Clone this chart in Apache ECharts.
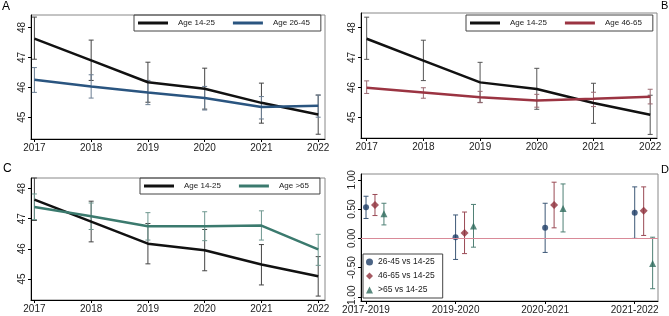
<!DOCTYPE html>
<html>
<head>
<meta charset="utf-8">
<script src="https://cdn.jsdelivr.net/npm/echarts@6/dist/echarts.min.js"></script>
<style>
  html, body { margin: 0; padding: 0; background: #fff; }
  #chart { width: 669px; height: 316px; }
</style>
</head>
<body>
<div id="chart"></div>
<script>
// years and tick values
const years = [2017, 2018, 2019, 2020, 2021, 2022];
const yTicks = [45, 46, 47, 48];

// reference group, age 14-25 (same in A, B, C)
const age1425 = [47.63, 46.90, 46.17, 45.95, 45.48, 45.09];
const age1425Lo = [46.94, 46.23, 45.50, 45.27, 44.80, 44.43];
const age1425Hi = [48.35, 47.58, 46.84, 46.64, 46.14, 45.74];

// panel A, age 26-45
const age2645 = [46.25, 46.03, 45.83, 45.64, 45.34, 45.38];
const age2645Lo = [45.83, 45.64, 45.42, 45.24, 44.94, 45.00];
const age2645Hi = [46.66, 46.42, 46.23, 46.03, 45.69, 45.74];

// panel B, age 46-65
const age4665 = [45.99, 45.83, 45.67, 45.56, 45.62, 45.69];
const age4665Lo = [45.80, 45.64, 45.49, 45.34, 45.36, 45.45];
const age4665Hi = [46.22, 45.99, 45.87, 45.77, 45.84, 45.94];

// panel C, age >65
const age65 = [47.39, 47.08, 46.75, 46.75, 46.77, 45.98];
const age65Lo = [46.97, 46.64, 46.29, 46.27, 46.29, 45.45];
const age65Hi = [47.82, 47.52, 47.20, 47.23, 47.26, 46.48];

// panel D, differences vs 14-25
const periods = ['2017-2019', '2019-2020', '2020-2021', '2021-2022'];
const dTicks = [-1, -0.5, 0, 0.5, 1];
const d2645 = [0.53, 0.02, 0.18, 0.44];
const d2645Lo = [0.34, -0.36, -0.24, 0.00];
const d2645Hi = [0.72, 0.40, 0.60, 0.88];
const d4665 = [0.57, 0.09, 0.57, 0.47];
const d4665Lo = [0.39, -0.26, 0.18, 0.05];
const d4665Hi = [0.75, 0.45, 0.96, 0.88];
const d65 = [0.42, 0.21, 0.51, -0.43];
const d65Lo = [0.23, -0.15, 0.11, -0.86];
const d65Hi = [0.60, 0.58, 0.93, 0.02];

const FONT = 'Liberation Sans, Arial, sans-serif';
const chart = echarts.init(document.getElementById('chart'));

function pairs(xs, ys) {
  return xs.map((x, i) => [x, ys[i]]);
}

function errRows(xs, lo, hi) {
  return xs.map((x, i) => [x, lo[i], hi[i]]);
}

// vertical error bar with small caps
function errBars(name, xs, lo, hi, color, idx) {
  return {
    type: 'custom',
    name: name,
    xAxisIndex: idx,
    yAxisIndex: idx,
    z: 2,
    silent: true,
    encode: { x: 0, y: [1, 2] },
    data: errRows(xs, lo, hi),
    renderItem: (params, api) => {
      const x = api.value(0);
      const top = api.coord([x, api.value(2)]);
      const bot = api.coord([x, api.value(1)]);
      const c = 2.5;
      const st = { stroke: color, lineWidth: 1 };
      return {
        type: 'group',
        children: [
          { type: 'line', shape: { x1: top[0], y1: top[1], x2: bot[0], y2: bot[1] }, style: st },
          { type: 'line', shape: { x1: top[0] - c, y1: top[1], x2: top[0] + c, y2: top[1] }, style: st },
          { type: 'line', shape: { x1: bot[0] - c, y1: bot[1], x2: bot[0] + c, y2: bot[1] }, style: st }
        ]
      };
    }
  };
}

function lineSeries(name, vals, color, idx) {
  return {
    type: 'line',
    name: name,
    xAxisIndex: idx,
    yAxisIndex: idx,
    z: 3,
    data: pairs(years, vals),
    symbol: 'none',
    color: color,
    lineStyle: { color: color, width: 2.5 }
  };
}

function xAxisYears(idx, min, max) {
  return {
    type: 'value',
    gridIndex: idx,
    min: min,
    max: max,
    axisLine: { show: true, onZero: false, lineStyle: { color: '#000', width: 1 } },
    axisTick: { show: true, length: 3, customValues: years, lineStyle: { color: '#000' } },
    axisLabel: {
      customValues: years,
      formatter: (v) => String(v),
      fontFamily: FONT, fontSize: 10, color: '#222', margin: 4
    },
    splitLine: { show: false }
  };
}

function yAxisScore(idx, min, max) {
  return {
    type: 'value',
    gridIndex: idx,
    min: min,
    max: max,
    axisLine: { show: true, onZero: false, lineStyle: { color: '#000', width: 1 } },
    axisTick: { show: true, length: 3, customValues: yTicks, lineStyle: { color: '#000' } },
    axisLabel: { customValues: yTicks, rotate: 90, fontFamily: FONT, fontSize: 10, color: '#222', margin: 4 },
    splitLine: { show: false }
  };
}

function lineLegend(names, left, top) {
  return {
    data: names,
    left: left,
    top: top,
    orient: 'horizontal',
    icon: 'rect',
    itemWidth: 30,
    itemHeight: 3,
    itemGap: 18,
    padding: [3, 11, 3, 4],
    borderColor: '#444',
    borderWidth: 1,
    selectedMode: false,
    textStyle: { fontFamily: FONT, fontSize: 8, color: '#222', lineHeight: 10, padding: [0, 0, 0, 5] }
  };
}

const gridStyle = { show: true, borderColor: '#888', borderWidth: 1 };

const option = {
  animation: false,
  backgroundColor: '#fff',
  grid: [
    Object.assign({ left: 31, top: 15, width: 294, height: 124 }, gridStyle),
    Object.assign({ left: 361, top: 13, width: 296, height: 125 }, gridStyle),
    Object.assign({ left: 31, top: 178, width: 294, height: 122 }, gridStyle),
    Object.assign({ left: 361, top: 174, width: 297, height: 127 }, gridStyle)
  ],
  xAxis: [
    xAxisYears(0, 2016.94, 2022.12),
    xAxisYears(1, 2016.90, 2022.12),
    xAxisYears(2, 2016.94, 2022.12),
    {
      type: 'value',
      gridIndex: 3,
      min: -0.056,
      max: 3.26,
      axisLine: { show: true, onZero: false, lineStyle: { color: '#000', width: 1 } },
      axisTick: { show: true, length: 3, customValues: [0, 1, 2, 3], lineStyle: { color: '#000' } },
      axisLabel: {
        customValues: [0, 1, 2, 3],
        formatter: (v) => periods[Math.round(v)],
        fontFamily: FONT, fontSize: 10, color: '#222', margin: 4
      },
      splitLine: { show: false }
    }
  ],
  yAxis: [
    yAxisScore(0, 44.27, 48.42),
    yAxisScore(1, 44.31, 48.49),
    yAxisScore(2, 44.30, 48.35),
    {
      type: 'value',
      gridIndex: 3,
      min: -1.07,
      max: 1.10,
      axisLine: { show: true, onZero: false, lineStyle: { color: '#000', width: 1 } },
      axisTick: { show: true, length: 3, customValues: dTicks, lineStyle: { color: '#000' } },
      axisLabel: {
        customValues: dTicks,
        rotate: 90,
        formatter: (v) => v.toFixed(2),
        fontFamily: FONT, fontSize: 10, color: '#222', margin: 4
      },
      splitLine: { show: false }
    }
  ],
  legend: [
    lineLegend(['Age 14-25', 'Age 26-45'], 134, 15),
    lineLegend(['Age 14-25', 'Age 46-65'], 466, 15),
    lineLegend(['Age 14-25', 'Age >65'], 140, 178),
    {
      data: ['26-45 vs 14-25', '46-65 vs 14-25', '>65 vs 14-25'],
      left: 363,
      top: 254,
      orient: 'vertical',
      itemWidth: 7,
      itemHeight: 7,
      itemGap: 4,
      padding: [3, 8, 3, 3],
      borderColor: '#444',
      borderWidth: 1,
      selectedMode: false,
      textStyle: { fontFamily: FONT, fontSize: 8.5, color: '#222', lineHeight: 10 }
    }
  ],
  graphic: [
    { type: 'text', left: 2, top: 1, style: { text: 'A', font: '12px ' + FONT, fill: '#000' } },
    { type: 'text', left: 661, top: 0, style: { text: 'B', font: '11px ' + FONT, fill: '#000' } },
    { type: 'text', left: 3, top: 163, style: { text: 'C', font: '12px ' + FONT, fill: '#000' } },
    { type: 'text', left: 661, top: 164, style: { text: 'D', font: '11px ' + FONT, fill: '#000' } }
  ],
  series: [
    // A
    errBars('errA1', years, age1425Lo, age1425Hi, '#444', 0),
    errBars('errA2', years, age2645Lo, age2645Hi, '#6c7f93', 0),
    lineSeries('Age 14-25', age1425, '#111', 0),
    lineSeries('Age 26-45', age2645, '#2a5580', 0),
    // B
    errBars('errB1', years, age1425Lo, age1425Hi, '#555', 1),
    errBars('errB2', years, age4665Lo, age4665Hi, '#9a6a72', 1),
    lineSeries('Age 14-25', age1425, '#111', 1),
    lineSeries('Age 46-65', age4665, '#9b3442', 1),
    // C
    errBars('errC1', years, age1425Lo, age1425Hi, '#444', 2),
    errBars('errC2', years, age65Lo, age65Hi, '#6f9890', 2),
    lineSeries('Age 14-25', age1425, '#111', 2),
    lineSeries('Age >65', age65, '#3b7a6e', 2),
    // D
    {
      type: 'line',
      name: 'zero',
      xAxisIndex: 3,
      yAxisIndex: 3,
      data: [],
      markLine: {
        silent: true,
        symbol: 'none',
        label: { show: false },
        lineStyle: { color: '#d98a98', width: 1, type: 'solid' },
        data: [{ yAxis: 0 }]
      }
    },
    errBars('errD1', periods.map((p, i) => i), d2645Lo, d2645Hi, '#3d5877', 3),
    errBars('errD2', periods.map((p, i) => i + 0.1), d4665Lo, d4665Hi, '#9a4a55', 3),
    errBars('errD3', periods.map((p, i) => i + 0.2), d65Lo, d65Hi, '#4f8075', 3),
    {
      type: 'scatter', name: '26-45 vs 14-25', xAxisIndex: 3, yAxisIndex: 3, z: 4,
      symbol: 'circle', symbolSize: 6, color: '#1e3d66',
      data: pairs(periods.map((p, i) => i), d2645)
    },
    {
      type: 'scatter', name: '46-65 vs 14-25', xAxisIndex: 3, yAxisIndex: 3, z: 4,
      symbol: 'diamond', symbolSize: 8, color: '#8e2f3b',
      data: pairs(periods.map((p, i) => i + 0.1), d4665)
    },
    {
      type: 'scatter', name: '>65 vs 14-25', xAxisIndex: 3, yAxisIndex: 3, z: 4,
      symbol: 'triangle', symbolSize: 7, color: '#2f6b5e',
      data: pairs(periods.map((p, i) => i + 0.2), d65)
    }
  ]
};

chart.setOption(option);
</script>
</body>
</html>
